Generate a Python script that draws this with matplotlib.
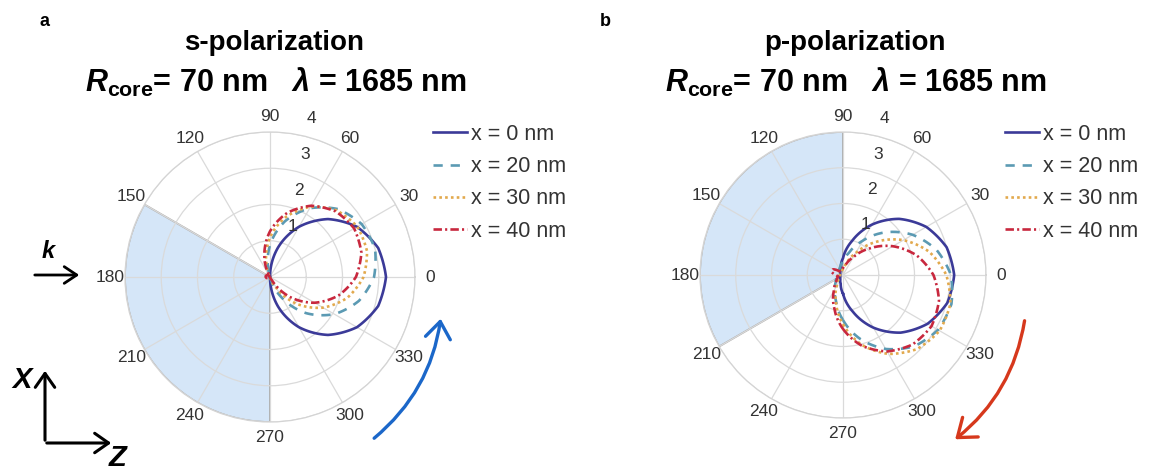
import numpy as np
import matplotlib
matplotlib.use("Agg")
import matplotlib.pyplot as plt
from matplotlib.patches import FancyArrowPatch

plt.rcParams['font.family'] = ['Liberation Sans', 'DejaVu Sans']
plt.rcParams['mathtext.fontset'] = 'custom'
plt.rcParams['mathtext.rm'] = 'Liberation Sans:bold'
plt.rcParams['mathtext.it'] = 'Liberation Sans:italic:bold'
plt.rcParams['mathtext.bf'] = 'Liberation Sans:bold'

# emission angle (deg) where the radiation pattern was read
angle_deg = [-90, -75, -60, -45, -30, -15, 0, 15, 30, 45, 60, 75, 90,
             105, 120, 135, 150, 165, 180, 195, 210, 225, 240, 255, 270]

# s-polarization, radial intensity
s_x0 = [0, 0.83, 1.60, 2.26, 2.77, 3.09, 3.20, 3.09, 2.77, 2.26, 1.60, 0.83, 0,
        0, 0, 0, 0, 0, 0, 0, 0, 0, 0, 0, 0]
s_x20 = [0, 0, 0.67, 1.41, 2.05, 2.54, 2.87, 3.00, 2.92, 2.65, 2.19, 1.59, 0.88,
         0.10, 0, 0, 0, 0, 0, 0, 0, 0, 0, 0, 0]
s_x30 = [0, 0, 0.34, 1.05, 1.69, 2.21, 2.58, 2.77, 2.78, 2.60, 2.24, 1.72, 1.09,
         0.39, 0, 0, 0, 0, 0, 0, 0, 0, 0, 0, 0]
s_x40 = [0, 0, 0.09, 0.78, 1.42, 1.96, 2.37, 2.61, 2.68, 2.56, 2.27, 1.83, 1.26,
         0.60, 0, 0.06, 0.10, 0.12, 0.12, 0.10, 0.06, 0, 0, 0, 0]

# p-polarization, radial intensity
p_x0 = [0.52, 1.06, 1.70, 2.28, 2.73, 3.02, 3.11, 3.00, 2.69, 2.22, 1.63, 0.99, 0.47,
        0.23, 0.14, 0.11, 0.09, 0.08, 0.08, 0.08, 0.09, 0.11, 0.15, 0.25, 0.52]
p_x20 = [1.26, 1.85, 2.39, 2.82, 3.07, 3.14, 3.02, 2.71, 2.25, 1.69, 1.11, 0.64, 0.38,
         0.26, 0.20, 0.17, 0.16, 0.15, 0.16, 0.18, 0.22, 0.29, 0.44, 0.75, 1.26]
p_x30 = [1.38, 2.02, 2.55, 2.93, 3.12, 3.11, 2.89, 2.50, 1.95, 1.31, 0.70, 0.31, 0.17,
         0.12, 0.09, 0.08, 0.08, 0.08, 0.08, 0.10, 0.12, 0.18, 0.34, 0.76, 1.38]
p_x40 = [1.51, 2.05, 2.47, 2.75, 2.86, 2.78, 2.53, 2.13, 1.61, 1.05, 0.57, 0.30, 0.19,
         0.14, 0.12, 0.15, 0.32, 0.33, 0.20, 0.14, 0.18, 0.27, 0.51, 0.95, 1.51]

labels = ['x = 0 nm', 'x = 20 nm', 'x = 30 nm', 'x = 40 nm']
colors = ['#3b3a98', '#5b9ab3', '#e2a94d', '#c8283e']
styles = ['-', (0, (3.5, 3)), (0, (1, 1.2)), (0, (3.2, 1.2, 0.8, 1.2))]

theta_ticks = [0, 30, 60, 90, 120, 150, 180, 210, 240, 270, 300, 330]
r_ticks = [1, 2, 3, 4]
shade_s = (150, 270)   # substrate side, s panel
shade_p = (90, 210)    # substrate side, p panel

W, H = 1175, 474
fig = plt.figure(figsize=(W / 100, H / 100), dpi=100)


def fpos(x, y):
    # pixel position (from top-left) -> figure fraction
    return (x / W, 1 - y / H)


def polar_panel(rect, series, shade):
    ax = fig.add_axes(rect, projection='polar')
    ax.set_ylim(0, r_ticks[-1])
    ax.set_xticks(np.deg2rad(theta_ticks))
    ax.set_xticklabels([])
    ax.set_yticks(r_ticks)
    ax.set_yticklabels([])
    ax.grid(True, color='#dadada', lw=0.9)
    ax.spines['polar'].set_color('#d4d4d4')
    ax.spines['polar'].set_linewidth(0.9)

    lo, hi = shade
    ax.bar(np.deg2rad((lo + hi) / 2), r_ticks[-1], width=np.deg2rad(hi - lo),
           bottom=0, color='#d5e6f8', edgecolor='#a8a8a8', lw=1.3, zorder=0.5)

    for vals, lab, col, ls in zip(series, labels, colors, styles):
        ln, = ax.plot(np.deg2rad(angle_deg), vals, color=col, ls=ls, lw=1.9, label=lab)
        # draw curved segments between the read points instead of chords
        ln.get_path()._interpolation_steps = 40

    for t in theta_ticks:
        ax.text(np.deg2rad(t), 4.42, str(t), ha='center', va='center',
                fontsize=12.5, color='#333333')
    for r in r_ticks:
        ax.annotate(str(r), xy=(np.deg2rad(80), r), xytext=(12, 11),
                    textcoords='offset points', ha='center', va='center',
                    fontsize=12.5, color='#333333')
    return ax


ax1 = polar_panel([125 / W, 1 - 422 / H, 290 / W, 290 / H],
                  [s_x0, s_x20, s_x30, s_x40], shade_s)
ax2 = polar_panel([700 / W, 1 - 418 / H, 286 / W, 286 / H],
                  [p_x0, p_x20, p_x30, p_x40], shade_p)

for ax, anchor in [(ax1, fpos(433, 124)), (ax2, fpos(1005, 124))]:
    h, l = ax.get_legend_handles_labels()
    fig.legend(h, l, loc='upper left', bbox_to_anchor=anchor, frameon=False,
               fontsize=15.5, handlelength=1.6, handletextpad=0.15,
               labelspacing=0.52, borderpad=0, borderaxespad=0,
               labelcolor='#333333')

# titles
fig.text(*fpos(45, 22), 'a', fontsize=13, fontweight='bold', ha='center', va='center')
fig.text(*fpos(605, 22), 'b', fontsize=13, fontweight='bold', ha='center', va='center')
fig.text(*fpos(274, 43), 's-polarization', fontsize=20, fontweight='bold',
         ha='center', va='center')
fig.text(*fpos(855, 43), 'p-polarization', fontsize=20, fontweight='bold',
         ha='center', va='center')
sub = r'$R_{\rm core}$= 70 nm   $\lambda$ = 1685 nm'
fig.text(*fpos(276, 82), sub, fontsize=22, fontweight='bold', ha='center', va='center')
fig.text(*fpos(856, 82), sub, fontsize=22, fontweight='bold', ha='center', va='center')

# k vector and axes
fig.add_artist(FancyArrowPatch(fpos(32, 275), fpos(82, 275), transform=fig.transFigure,
                               arrowstyle='->,head_length=0.45,head_width=0.3',
                               mutation_scale=20, lw=2.0, color='black'))
fig.text(*fpos(48, 252), 'k', fontsize=17, fontweight='bold', style='italic',
         ha='center', va='center')
fig.add_artist(FancyArrowPatch(fpos(45, 443), fpos(45, 368), transform=fig.transFigure,
                               arrowstyle='->,head_length=0.5,head_width=0.35',
                               mutation_scale=20, lw=2.2, color='black'))
fig.add_artist(FancyArrowPatch(fpos(44, 443), fpos(114, 443), transform=fig.transFigure,
                               arrowstyle='->,head_length=0.5,head_width=0.35',
                               mutation_scale=20, lw=2.2, color='black'))
fig.text(*fpos(22, 380), 'X', fontsize=21, fontweight='bold', style='italic',
         ha='center', va='center')
fig.text(*fpos(118, 458), 'Z', fontsize=21, fontweight='bold', style='italic',
         ha='center', va='center')

# rotation arrows
fig.add_artist(FancyArrowPatch(fpos(372, 440), fpos(441, 316), transform=fig.transFigure,
                               connectionstyle='arc3,rad=0.2',
                               arrowstyle='->,head_length=0.6,head_width=0.45',
                               mutation_scale=20, lw=2.4, color='#1b67c9'))
fig.add_artist(FancyArrowPatch(fpos(1025, 318), fpos(953, 441), transform=fig.transFigure,
                               connectionstyle='arc3,rad=-0.2',
                               arrowstyle='->,head_length=0.6,head_width=0.45',
                               mutation_scale=20, lw=2.4, color='#d6381c'))

fig.savefig('out.png', dpi=100)
